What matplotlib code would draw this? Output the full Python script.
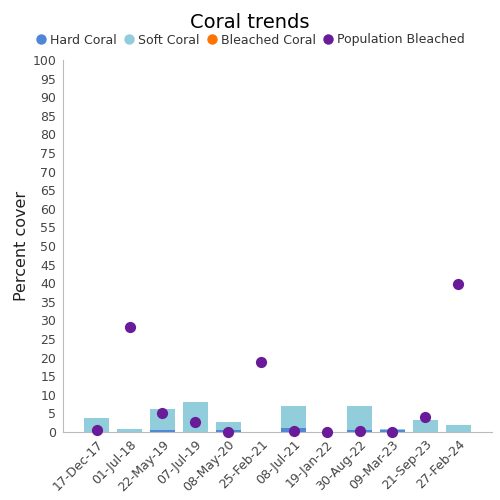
import matplotlib
matplotlib.use("Agg")
import matplotlib.pyplot as plt
import numpy as np
from matplotlib.lines import Line2D

dates = ["17-Dec-17", "01-Jul-18", "22-May-19", "07-Jul-19", "08-May-20", "25-Feb-21",
         "08-Jul-21", "19-Jan-22", "30-Aug-22", "09-Mar-23", "21-Sep-23", "27-Feb-24"]
hard_coral = [0.1, 0.0, 0.6, 0.1, 0.6, 0.0, 1.2, 0.0, 0.6, 0.6, 0.0, 0.0]
soft_coral = [3.7, 0.7, 5.7, 8.0, 2.0, 0.0, 5.7, 0.0, 6.3, 0.2, 3.2, 2.0]
bleached_coral = [0.0] * 12
population_bleached = [0.5, 28.3, 5.1, 2.6, 0.1, 18.8, 0.2, 0.0, 0.3, 0.1, 3.9, 39.8]

c_hard = "#4F86D6"
c_soft = "#92CDDC"
c_bleach = "#FF7300"
c_pop = "#6A1B9A"

fig = plt.figure(figsize=(5, 5), dpi=100)
ax = fig.add_axes([0.126, 0.136, 0.858, 0.744])
x = np.arange(len(dates))
w = 0.76
hard = np.array(hard_coral)
soft = np.array(soft_coral)
ax.bar(x, hard, width=w, color=c_hard, linewidth=0)
ax.bar(x, soft, bottom=hard, width=w, color=c_soft, linewidth=0)
ax.bar(x, bleached_coral, bottom=hard + soft, width=w, color=c_bleach, linewidth=0)
ax.scatter(x, population_bleached, s=65, color=c_pop, zorder=5, clip_on=False, linewidths=0)

ax.set_xlim(-1.026, 12.03)
ax.set_ylim(0, 100)
ax.set_yticks(np.arange(0, 101, 5))
ax.set_xticks(x)
ax.set_xticklabels(dates, rotation=45, ha="right", rotation_mode="anchor", fontsize=9, color="#444444")
ax.tick_params(axis="y", labelsize=9, colors="#444444", length=0, pad=5)
ax.tick_params(axis="x", length=0, pad=4)
for s in ["top", "right"]:
    ax.spines[s].set_visible(False)
for s in ["left", "bottom"]:
    ax.spines[s].set_color("#BBBBBB")
ax.set_ylabel("Percent cover", fontsize=11.5, color="#222222", labelpad=2)

fig.text(0.5, 0.975, "Coral trends", ha="center", va="top", fontsize=14, color="black")
handles = [Line2D([], [], marker="o", linestyle="", color=c, markersize=7.5, markeredgewidth=0)
           for c in [c_hard, c_soft, c_bleach, c_pop]]
fig.legend(handles, ["Hard Coral", "Soft Coral", "Bleached Coral", "Population Bleached"],
           loc="center", bbox_to_anchor=(0.5, 0.92), ncol=4, frameon=False, fontsize=9,
           handletextpad=0.25, columnspacing=0.55, handlelength=0.9, labelcolor="#333333")
fig.savefig("out.png", dpi=100)
